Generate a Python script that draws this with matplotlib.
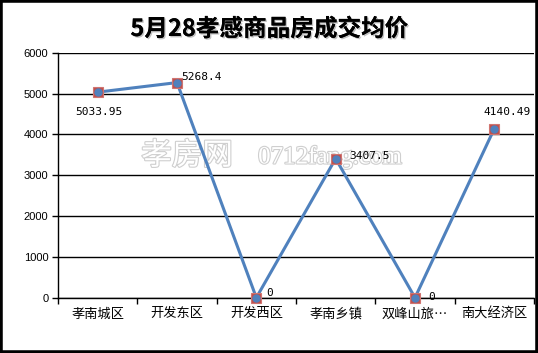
import numpy as np
import matplotlib.pyplot as plt
from matplotlib.patches import Rectangle
import matplotlib.patheffects as pe

plt.rcParams['font.family'] = ['Noto Sans CJK SC', 'DejaVu Sans']

# 各区域成交均价
regiones = ['孝南城区', '开发东区', '开发西区', '孝南乡镇', '双峰山旅…', '南大经济区']
precios = [5033.95, 5268.4, 0, 3407.5, 0, 4140.49]
etiquetas = ['5033.95', '5268.4', '0', '3407.5', '0', '4140.49']
yticks = [0, 1000, 2000, 3000, 4000, 5000, 6000]

# desplazamiento de cada etiqueta respecto al punto (pixeles)
desplazamientos = [(1, -20), (24, 6), (13, 5), (34, 3), (17, 1), (13, 17)]

W, H = 538, 353
fig = plt.figure(figsize=(W / 100, H / 100), dpi=100)
ax = fig.add_axes([58 / W, 1 - 297.7 / H, (534 - 58) / W, (297.7 - 52.7) / H])

x = np.arange(len(regiones))

ax.set_xlim(-0.5, len(regiones) - 0.5)
ax.set_ylim(0, 6000)
ax.set_yticks(yticks)
ax.set_yticklabels([str(v) for v in yticks], family='Liberation Sans', fontsize=8)
ax.yaxis.grid(True, color='black', linewidth=1)
ax.set_axisbelow(True)

# ticks mayores en los bordes de cada categoria, etiquetas en el centro
ax.set_xticks(np.arange(-0.5, len(regiones)))
ax.set_xticklabels([])
ax.set_xticks(x, minor=True)
ax.set_xticklabels(regiones, minor=True, fontsize=9.5)
ax.tick_params(axis='x', which='major', direction='out', length=4, width=1, color='black')
ax.tick_params(axis='x', which='minor', length=0, pad=7)
ax.tick_params(axis='y', direction='out', length=4, width=1, pad=3)

for lado in ['top', 'right']:
    ax.spines[lado].set_visible(False)
for lado in ['left', 'bottom']:
    ax.spines[lado].set_linewidth(1)
    ax.spines[lado].set_color('black')

ax.plot(x, precios, color='#4F81BD', linewidth=2.2, zorder=3, clip_on=False)
ax.plot(x, precios, linestyle='none', marker='s', markersize=7.5,
        markerfacecolor='#C0504D', markeredgecolor='#D07470', markeredgewidth=0.8,
        zorder=4, clip_on=False)
ax.plot(x, precios, linestyle='none', marker='o', markersize=5,
        markerfacecolor='#4F81BD', markeredgecolor='#4F81BD', zorder=5, clip_on=False)

for xi, yi, txt, (dx, dy) in zip(x, precios, etiquetas, desplazamientos):
    ax.annotate(txt, (xi, yi), xytext=(dx, dy), textcoords='offset pixels',
                ha='center', va='center', fontsize=8, family='DejaVu Sans Mono',
                zorder=6, annotation_clip=False)

# marca de agua
marca = [pe.withStroke(linewidth=1.6, foreground='#cfcfcf')]
ax.text(187 / W, 1 - 156 / H, '孝房网', transform=fig.transFigure, fontsize=22,
        color='white', ha='center', va='center', path_effects=marca, zorder=2)
ax.text(330 / W, 1 - 157 / H, '0712fang.com', transform=fig.transFigure,
        fontsize=18, family='Liberation Serif', color='white', ha='center',
        va='center', path_effects=marca, zorder=2)

fig.text(0.501, 1 - 29 / H, '5月28孝感商品房成交均价', fontsize=17, fontweight='bold',
         ha='center', va='center',
         path_effects=[pe.withSimplePatchShadow(offset=(1, -1), shadow_rgbFace='#999999', alpha=0.6),
                       pe.Normal()])

# marco exterior
fig.patches.append(Rectangle((0, 0), 1, 1, transform=fig.transFigure, fill=False,
                             edgecolor='black', linewidth=4))

fig.savefig('out.png', dpi=100)
